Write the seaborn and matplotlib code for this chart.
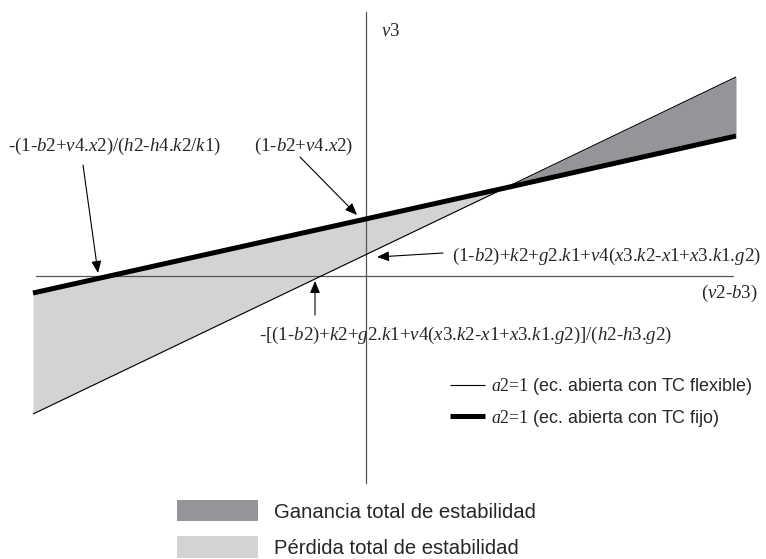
import matplotlib
matplotlib.use("Agg")
import matplotlib.pyplot as plt
import seaborn as sns
from matplotlib.patches import Patch

# ─────────────────────────────────────────────
# DATA  (origin = where the two axes cross)
# ─────────────────────────────────────────────
line_x = [-3.33, 1.39, 3.70]
fixed_y = [-0.17, 0.88, 1.40]   # a2=1, TC fijo (thick)
flex_y = [-1.38, 0.88, 1.99]    # a2=1, TC flexible (thin)

axis_x = [-3.30, 3.67]
axis_y = [-2.07, 2.64]

x_label = "(v2-b3)"
y_label = "v3"

formulas = [
    "-(1-b2+v4.x2)/(h2-h4.k2/k1)",
    "(1-b2+v4.x2)",
    "(1-b2)+k2+g2.k1+v4(x3.k2-x1+x3.k1.g2)",
    "-[(1-b2)+k2+g2.k1+v4(x3.k2-x1+x3.k1.g2)]/(h2-h3.g2)",
]

line_names = ["(ec. abierta con TC flexible)", "(ec. abierta con TC fijo)"]
area_names = ["Ganancia total de estabilidad", "Pérdida total de estabilidad"]

GAIN = "#949598"
LOSS = "#d1d3d4"
AXIS = "#555555"

# layout: text anchor, arrow start, arrow tip (data units)
text_pos = [(-3.58, 1.30), (-1.12, 1.30), (0.86, 0.20), (-1.07, -0.59)]
arrow_from = [(-2.83, 1.11), (-0.66, 1.19), (0.77, 0.23), (-0.51, -0.39)]
arrow_to = [(-2.68, 0.03), (-0.09, 0.61), (0.11, 0.19), (-0.51, -0.05)]


def italic_vars(s):
    # letters in italic serif, everything else upright
    out, buf = [], ""
    for ch in s:
        if ch.isalpha():
            if buf:
                out.append(r"\text{" + buf + "}")
                buf = ""
            out.append(ch)
        else:
            buf += ch
    if buf:
        out.append(r"\text{" + buf + "}")
    return "$" + "".join(out) + "$"


# ─────────────────────────────────────────────
# STYLE
# ─────────────────────────────────────────────
sns.set_theme(style="white")
plt.rcParams["font.family"] = ["Liberation Sans", "DejaVu Sans"]
plt.rcParams["mathtext.fontset"] = "custom"
plt.rcParams["mathtext.rm"] = "Liberation Serif"
plt.rcParams["mathtext.it"] = "Liberation Serif:italic"

fig = plt.figure(figsize=(7.66, 5.59), dpi=100)
ax = fig.add_axes([0, 0, 1, 1])
ax.set_xlim(-3.66, 4.00)
ax.set_ylim(-2.83, 2.76)
ax.axis("off")

# ─────────────────────────────────────────────
# AREAS + LINES
# ─────────────────────────────────────────────
below = [f <= g for f, g in zip(flex_y, fixed_y)]
above = [f >= g for f, g in zip(flex_y, fixed_y)]
ax.fill_between(line_x, flex_y, fixed_y, where=below, color=LOSS, lw=0, zorder=1)
ax.fill_between(line_x, flex_y, fixed_y, where=above, color=GAIN, lw=0, zorder=1)

ax.plot(axis_x, [0, 0], color=AXIS, lw=0.9, zorder=2)
ax.plot([0, 0], axis_y, color=AXIS, lw=0.9, zorder=2)

sns.lineplot(x=line_x, y=flex_y, ax=ax, color="black", lw=0.8, zorder=3,
             solid_capstyle="butt",
             label=italic_vars("a2=1") + " " + line_names[0])
sns.lineplot(x=line_x, y=fixed_y, ax=ax, color="black", lw=3.6, zorder=4,
             solid_capstyle="butt",
             label=italic_vars("a2=1") + " " + line_names[1])

# ─────────────────────────────────────────────
# LABELS + ARROWS
# ─────────────────────────────────────────────
serif = dict(fontsize=13.6, va="center", ha="left")
for txt, pos, a0, a1 in zip(formulas, text_pos, arrow_from, arrow_to):
    ax.text(pos[0], pos[1], italic_vars(txt), **serif)
    ax.annotate("", xy=a1, xytext=a0,
                arrowprops=dict(arrowstyle="-|>,head_length=0.6,head_width=0.25",
                                color="black", lw=0.8, mutation_scale=12,
                                shrinkA=0, shrinkB=0))

ax.text(3.92, -0.17, italic_vars(x_label), fontsize=13.6, va="center", ha="right")
ax.text(0.15, 2.45, italic_vars(y_label), fontsize=13.6, va="center", ha="left")

# ─────────────────────────────────────────────
# LEGENDS
# ─────────────────────────────────────────────
handles, labels = ax.get_legend_handles_labels()
leg1 = ax.legend(handles, labels, loc="upper left",
                 bbox_to_anchor=(450 / 766, 1 - 376 / 559),
                 bbox_transform=fig.transFigure, frameon=False,
                 fontsize=12.9, handlelength=1.95, handletextpad=0.35,
                 labelspacing=0.6, borderpad=0, borderaxespad=0)
ax.add_artist(leg1)

patches = [Patch(facecolor=GAIN, edgecolor="none"),
           Patch(facecolor=LOSS, edgecolor="none")]
ax.legend(patches, area_names, loc="upper left",
          bbox_to_anchor=(177 / 766, 1 - 500 / 559),
          bbox_transform=fig.transFigure, frameon=False,
          fontsize=14.6, handlelength=4.0, handleheight=1.25,
          handletextpad=0.8, labelspacing=0.72, borderpad=0, borderaxespad=0)

fig.savefig("out.png", dpi=100)
